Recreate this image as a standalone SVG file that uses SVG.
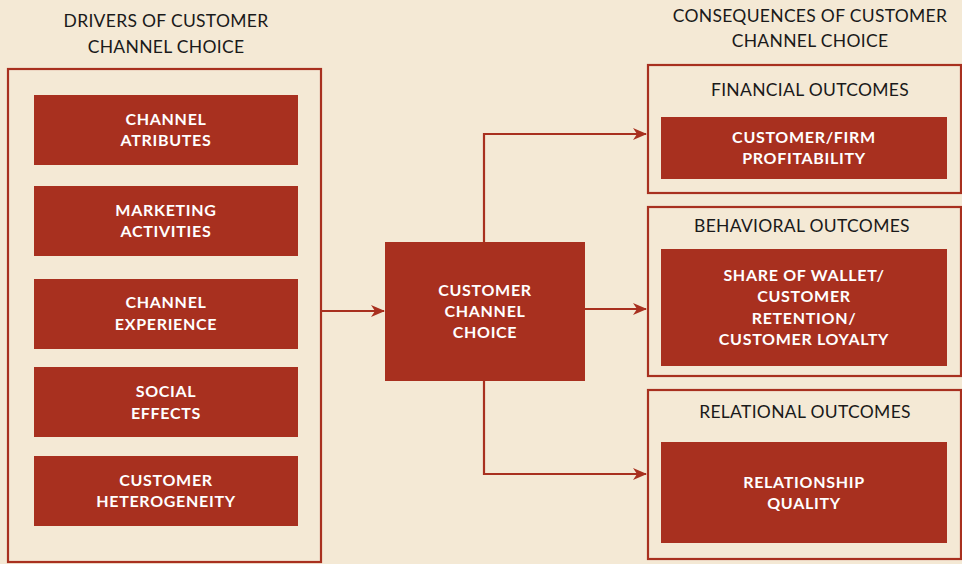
<svg xmlns="http://www.w3.org/2000/svg" width="962" height="564" viewBox="0 0 962 564">
<defs>
<style>
.bg{fill:#F4E9D5}
.frame{fill:none;stroke:#A8301F;stroke-width:2.2}
.box{fill:#A8301F}
.lbl{font-family:Lato,"Open Sans","Liberation Sans",sans-serif;font-weight:bold;font-size:16px;fill:#FFFFFF;text-anchor:middle;letter-spacing:0.7px}
.hdr{font-family:Lato,"Open Sans","Liberation Sans",sans-serif;font-size:17.5px;fill:#1A1A1A;text-anchor:middle;letter-spacing:0.3px}
.conn{fill:none;stroke:#A8301F;stroke-width:2.2}
</style>
<marker id="arr" viewBox="0 0 14 12" refX="13" refY="6" markerWidth="14" markerHeight="12" markerUnits="userSpaceOnUse" orient="auto">
<path d="M0,0 L14,6 L0,12 L4,6 Z" fill="#A8301F"/>
</marker>
</defs>
<rect class="bg" x="0" y="0" width="962" height="564"/>

<g id="drivers">
<text class="hdr" x="166" y="27">DRIVERS OF CUSTOMER</text>
<text class="hdr" x="166" y="53">CHANNEL CHOICE</text>
<rect class="frame" x="8" y="69" width="313" height="493"/>
</g>

<g id="channel-atributes">
<rect class="box" x="34" y="95" width="264" height="70"/>
<text class="lbl" x="166" y="125">CHANNEL</text>
<text class="lbl" x="166" y="146">ATRIBUTES</text>
</g>
<g id="marketing-activities">
<rect class="box" x="34" y="186" width="264" height="70"/>
<text class="lbl" x="166" y="216">MARKETING</text>
<text class="lbl" x="166" y="237">ACTIVITIES</text>
</g>
<g id="channel-experience">
<rect class="box" x="34" y="279" width="264" height="70"/>
<text class="lbl" x="166" y="308">CHANNEL</text>
<text class="lbl" x="166" y="330">EXPERIENCE</text>
</g>
<g id="social-effects">
<rect class="box" x="34" y="367" width="264" height="70"/>
<text class="lbl" x="166" y="397">SOCIAL</text>
<text class="lbl" x="166" y="419">EFFECTS</text>
</g>
<g id="customer-heterogeneity">
<rect class="box" x="34" y="456" width="264" height="70"/>
<text class="lbl" x="166" y="486">CUSTOMER</text>
<text class="lbl" x="166" y="507">HETEROGENEITY</text>
</g>

<g id="customer-channel-choice">
<rect class="box" x="385" y="242" width="200" height="139"/>
<text class="lbl" x="485" y="296">CUSTOMER</text>
<text class="lbl" x="485" y="317">CHANNEL</text>
<text class="lbl" x="485" y="338">CHOICE</text>
</g>

<g id="consequences">
<text class="hdr" x="810" y="22">CONSEQUENCES OF CUSTOMER</text>
<text class="hdr" x="810" y="47">CHANNEL CHOICE</text>
</g>

<g id="financial-outcomes">
<rect class="frame" x="648" y="65" width="313" height="128"/>
<text class="hdr" x="810" y="96">FINANCIAL OUTCOMES</text>
<rect class="box" x="661" y="117" width="286" height="62"/>
<text class="lbl" x="804" y="143">CUSTOMER/FIRM</text>
<text class="lbl" x="804" y="164">PROFITABILITY</text>
</g>

<g id="behavioral-outcomes">
<rect class="frame" x="648" y="207" width="313" height="169"/>
<text class="hdr" x="802" y="232">BEHAVIORAL OUTCOMES</text>
<rect class="box" x="661" y="249" width="286" height="117"/>
<text class="lbl" x="804" y="281">SHARE OF WALLET/</text>
<text class="lbl" x="804" y="302">CUSTOMER</text>
<text class="lbl" x="804" y="324">RETENTION/</text>
<text class="lbl" x="804" y="345">CUSTOMER LOYALTY</text>
</g>

<g id="relational-outcomes">
<rect class="frame" x="648" y="390" width="313" height="169"/>
<text class="hdr" x="805" y="418">RELATIONAL OUTCOMES</text>
<rect class="box" x="661" y="442" width="286" height="101"/>
<text class="lbl" x="804" y="488">RELATIONSHIP</text>
<text class="lbl" x="804" y="509">QUALITY</text>
</g>

<g id="connectors">
<path class="conn" d="M321,311 H384" marker-end="url(#arr)"/>
<path class="conn" d="M585,309 H646" marker-end="url(#arr)"/>
<path class="conn" d="M484,242 V134 H646" marker-end="url(#arr)"/>
<path class="conn" d="M484,381 V474 H646" marker-end="url(#arr)"/>
</g>
</svg>
